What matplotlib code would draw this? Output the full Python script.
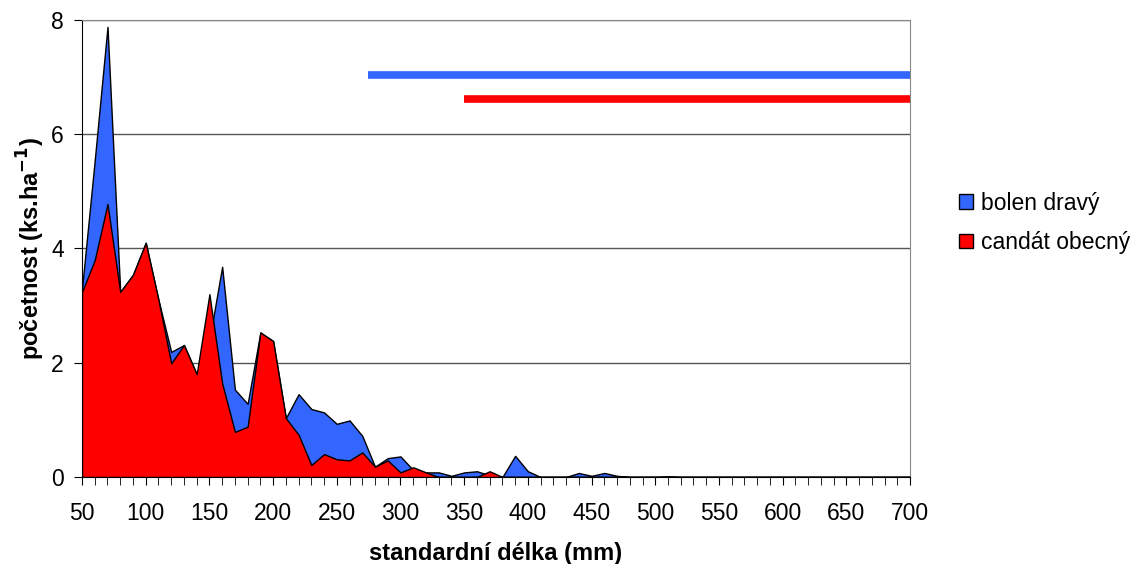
import numpy as np
import matplotlib.pyplot as plt
from matplotlib.patches import Patch

plt.rcParams['font.family'] = ['Liberation Sans', 'DejaVu Sans']

# standard length classes (mm)
lengths = list(range(50, 710, 10))

bolen = [3.30, 5.55, 7.88, 3.24, 3.54, 4.10, 3.10, 2.19, 2.31, 1.80,
         2.40, 3.68, 1.53, 1.28, 2.53, 2.38, 1.03, 1.45, 1.19, 1.13,
         0.93, 0.99, 0.72, 0.18, 0.33, 0.36, 0.12, 0.08, 0.08, 0.02,
         0.08, 0.10, 0.03, 0.00, 0.37, 0.10, 0.00, 0.00, 0.00, 0.07,
         0.02, 0.07, 0.02, 0.00, 0.00, 0.00, 0.01] + [0.0] * 19

candat = [3.24, 3.80, 4.78, 3.24, 3.54, 4.10, 3.10, 1.99, 2.31, 1.80,
          3.20, 1.64, 0.79, 0.88, 2.53, 2.38, 1.03, 0.74, 0.21, 0.40,
          0.31, 0.29, 0.43, 0.18, 0.29, 0.08, 0.17, 0.08, 0.00, 0.00,
          0.00, 0.00, 0.10, 0.00] + [0.0] * 32

# range bars drawn at the top
range_start = [274.5, 350]
range_end = [700, 700]
range_level = [7.04, 6.62]

labels = ['bolen dravý', 'candát obecný']
colors = ['#3366FF', '#FF0000']

fig = plt.figure(figsize=(11.36, 5.64), dpi=100)
ax = fig.add_axes([0.0722, 0.1543, 0.7289, 0.8102])

ax.fill_between(lengths, 0, bolen, facecolor=colors[0], edgecolor='black', lw=1, zorder=2)
ax.fill_between(lengths, 0, candat, facecolor=colors[1], edgecolor='black', lw=1, zorder=3)

for s, e, lv, c in zip(range_start, range_end, range_level, colors):
    ax.plot([s, e], [lv, lv], color=c, lw=5.5, solid_capstyle='butt', zorder=4)

ax.set_xlim(50, 700)
ax.set_ylim(0, 8)
ax.set_xticks(range(50, 701, 50))
ax.set_xticks(lengths, minor=True)
ax.set_yticks([0, 2, 4, 6, 8])
ax.tick_params(axis='both', which='major', labelsize=16.5, length=6, direction='out', color='black')
ax.tick_params(axis='x', which='minor', length=6, direction='out')
ax.tick_params(axis='x', pad=12)
ax.tick_params(axis='y', pad=7)

ax.grid(axis='y', color='#555555', lw=1, zorder=1)
ax.set_axisbelow(True)
for side in ['top', 'right']:
    ax.spines[side].set_color('#888888')
ax.spines['left'].set_color('black')
ax.spines['bottom'].set_color('black')

ax.set_xlabel('standardní délka (mm)', fontsize=17, fontweight='bold', labelpad=12)
ax.set_ylabel('početnost (ks.ha$^{\\mathbf{-1}}$)', fontsize=17, fontweight='bold', labelpad=3)

handles = [Patch(facecolor=c, edgecolor='black', lw=1) for c in colors]
fig.legend(handles, labels, loc='center left', bbox_to_anchor=(0.8345, 0.605),
           frameon=False, fontsize=16.5, handlelength=0.6, handleheight=0.6,
           handletextpad=0.35, labelspacing=0.72, borderpad=0)

fig.savefig('out.png', dpi=100)
